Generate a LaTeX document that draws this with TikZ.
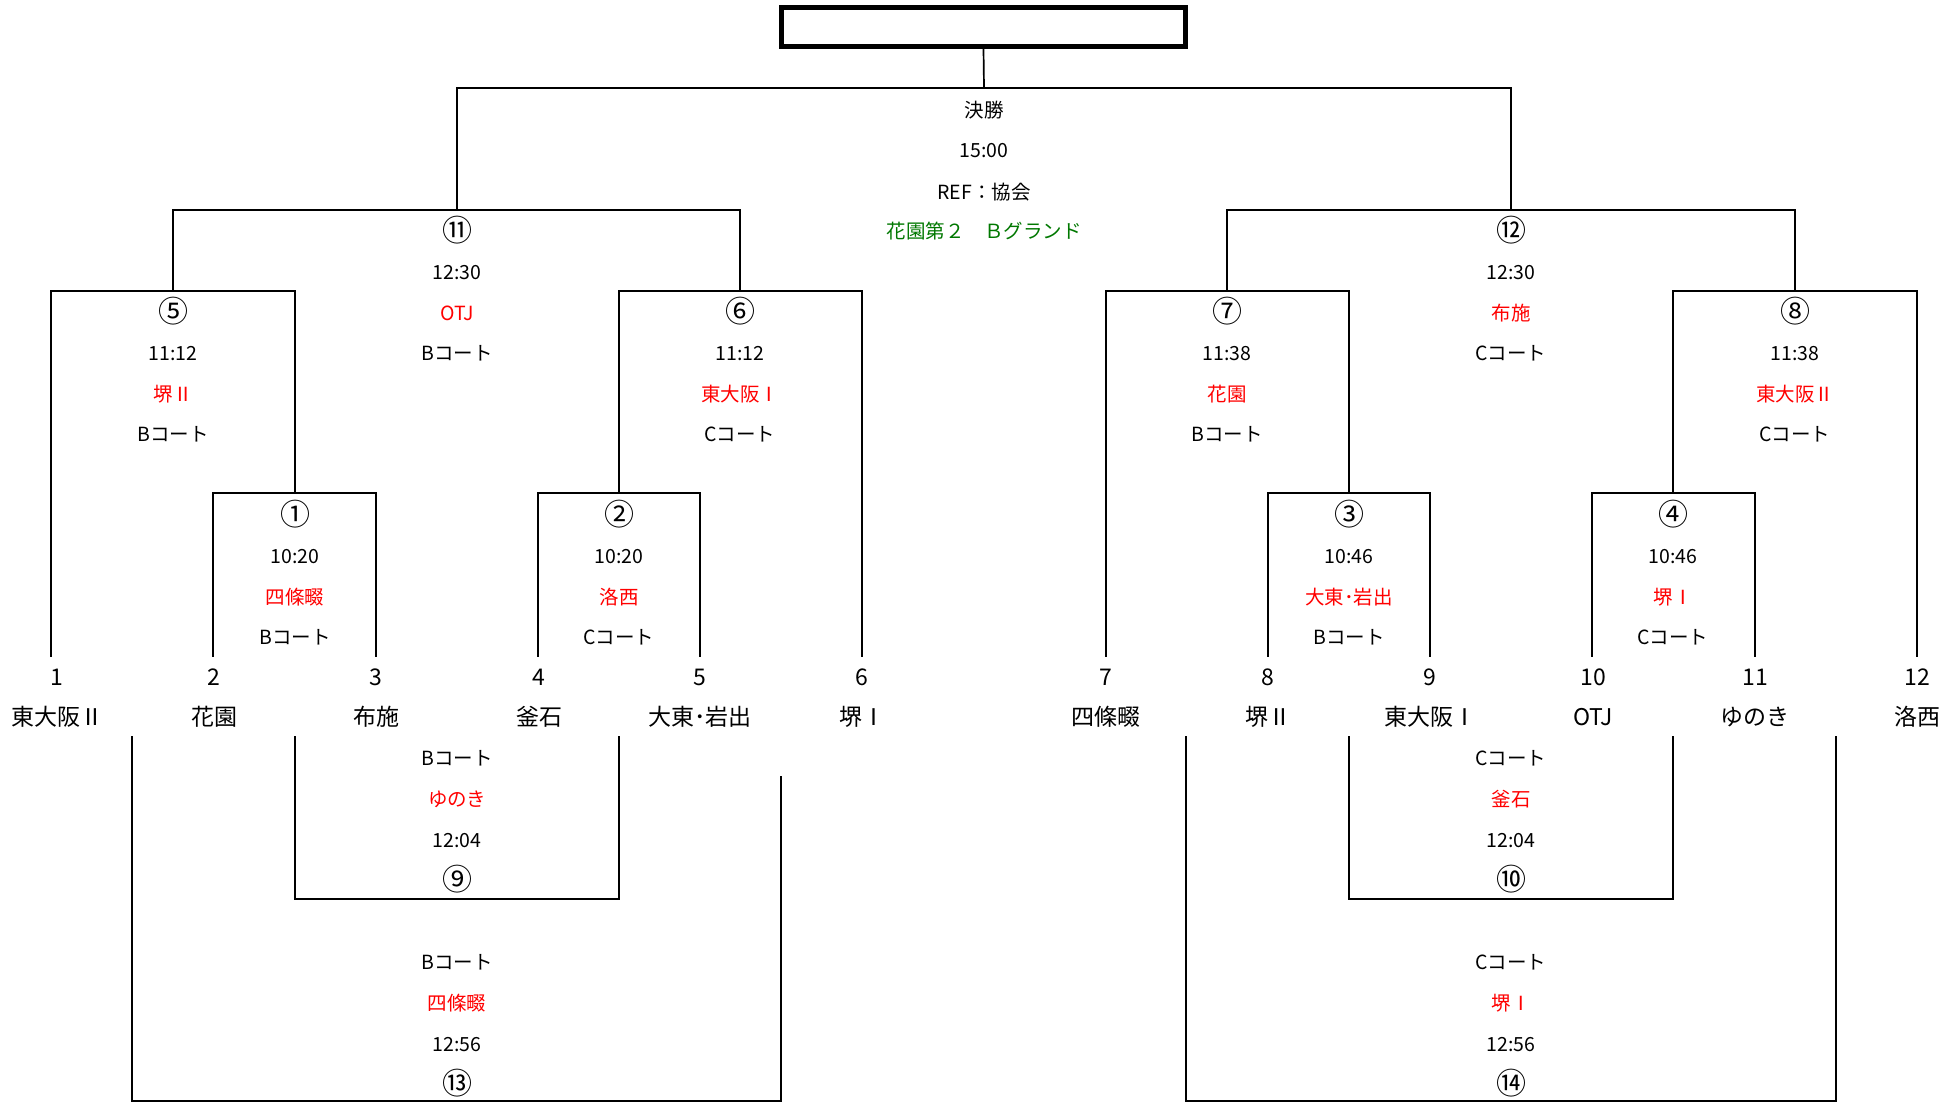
\documentclass[tikz,border=0pt]{standalone}
\usepackage{fontspec}
\setmainfont{Noto Sans CJK JP}
\definecolor{tred}{RGB}{255,0,0}
\definecolor{tgreen}{RGB}{0,120,0}
\newcommand\smf{\fontsize{19.5}{20}\selectfont}
\newcommand\bgf{\fontsize{23}{24}\selectfont}
\newcommand\cnum[1]{\raisebox{-2.5pt}{\fontsize{30}{30}\selectfont #1}}
\tikzset{
  br/.style={line width=1.7pt, black, line cap=rect},
  sm/.style={font=\smf, inner sep=0pt, text height=0.74em, text depth=0pt, anchor=center},
  smr/.style={sm, text=tred},
  bg/.style={font=\bgf, inner sep=0pt, text height=0.74em, text depth=0pt, anchor=center},
}
% bracket: name, xl, xr, yh, y-left-end, y-right-end
\newcommand\bkt[6]{%
  \coordinate (#1-lb) at (#2,#5);
  \coordinate (#1-l) at (#2,#4);
  \coordinate (#1-r) at (#3,#4);
  \coordinate (#1-rb) at (#3,#6);
  \draw[br] (#1-lb) -- (#1-l) -- (#1-r) -- (#1-rb);
}
% match text, red on third line: name, x, y, l1..l4
\newcommand\mtxa[7]{%
  \node[sm] (#1a) at (#2,#3) {\cnum{#4}};
  \node[sm] (#1b) at (#2,#3+40.7) {#5};
  \node[smr] (#1c) at (#2,#3+81.3) {#6};
  \node[sm] (#1d) at (#2,#3+122) {#7};
}
% match text, red on second line
\newcommand\mtxb[7]{%
  \node[sm] (#1a) at (#2,#3) {#4};
  \node[smr] (#1b) at (#2,#3+40.7) {#5};
  \node[sm] (#1c) at (#2,#3+81.3) {#6};
  \node[sm] (#1d) at (#2,#3+122) {\cnum{#7}};
}
\begin{document}
\begin{tikzpicture}[x=1pt,y=-1pt]
\useasboundingbox[fill=white] (0,0) rectangle (1959,1101);

% title box
\node[draw, line width=5pt, minimum width=404pt, minimum height=39pt, inner sep=0pt] (title) at (983.5,27) {};
\coordinate (fmid) at (984,88);
\draw[br] (title.south) -- (fmid);

% upper brackets
\bkt{f}{457}{1511}{88}{210}{210}
\bkt{m11}{173}{740}{210}{291}{291}
\bkt{m5}{51}{295}{291}{656}{493}
\bkt{m6}{619}{862}{291}{493}{656}
\bkt{m1}{213}{376}{493}{656}{656}
\bkt{m2}{538}{700}{493}{656}{656}
\bkt{m12}{1227}{1795}{210}{291}{291}
\bkt{m7}{1106}{1349}{291}{656}{493}
\bkt{m8}{1673}{1917}{291}{493}{656}
\bkt{m3}{1268}{1430}{493}{656}{656}
\bkt{m4}{1592}{1755}{493}{656}{656}
% lower brackets
\bkt{m9}{295}{619}{899}{737}{737}
\bkt{m10}{1349}{1673}{899}{737}{737}
\bkt{m13}{132}{781}{1101}{737}{777}
\bkt{m14}{1186}{1836}{1101}{737}{737}

% final texts
\node[sm] (fa) at (984,114) {決勝};
\node[sm] (fb) at (984,154) {15:00};
\node[sm] (fc) at (984,196) {REF：協会};
\node[sm, text=tgreen] (fd) at (984,235) {花園第２　Ｂグランド};

% match texts (upper)
\mtxa{t11}{457}{235}{⑪}{12:30}{OTJ}{Bコート}
\mtxa{t12}{1511}{235}{⑫}{12:30}{布施}{Cコート}
\mtxa{t5}{173}{316}{⑤}{11:12}{堺Ⅱ}{Bコート}
\mtxa{t6}{740}{316}{⑥}{11:12}{東大阪Ⅰ}{Cコート}
\mtxa{t7}{1227}{316}{⑦}{11:38}{花園}{Bコート}
\mtxa{t8}{1795}{316}{⑧}{11:38}{東大阪Ⅱ}{Cコート}
\mtxa{t1}{295}{519}{①}{10:20}{四條畷}{Bコート}
\mtxa{t2}{619}{519}{②}{10:20}{洛西}{Cコート}
\mtxa{t3}{1349}{519}{③}{10:46}{大東･岩出}{Bコート}
\mtxa{t4}{1673}{519}{④}{10:46}{堺Ⅰ}{Cコート}
% match texts (lower)
\mtxb{t9}{457}{762}{Bコート}{ゆのき}{12:04}{⑨}
\mtxb{t10}{1511}{762}{Cコート}{釜石}{12:04}{⑩}
\mtxb{t13}{457}{966}{Bコート}{四條畷}{12:56}{⑬}
\mtxb{t14}{1511}{966}{Cコート}{堺Ⅰ}{12:56}{⑭}

% team numbers
\node[bg] (n1) at (57,682) {1};
\node[bg] (n2) at (214,682) {2};
\node[bg] (n3) at (376,682) {3};
\node[bg] (n4) at (539,682) {4};
\node[bg] (n5) at (700,682) {5};
\node[bg] (n6) at (862,682) {6};
\node[bg] (n7) at (1106,682) {7};
\node[bg] (n8) at (1268,682) {8};
\node[bg] (n9) at (1430,682) {9};
\node[bg] (n10) at (1593,682) {10};
\node[bg] (n11) at (1755,682) {11};
\node[bg] (n12) at (1917,682) {12};
% team names
\node[bg] (s1) at (57,722) {東大阪Ⅱ};
\node[bg] (s2) at (214,722) {花園};
\node[bg] (s3) at (376,722) {布施};
\node[bg] (s4) at (539,722) {釜石};
\node[bg] (s5) at (700,722) {大東･岩出};
\node[bg] (s6) at (862,722) {堺Ⅰ};
\node[bg] (s7) at (1106,722) {四條畷};
\node[bg] (s8) at (1268,722) {堺Ⅱ};
\node[bg] (s9) at (1430,722) {東大阪Ⅰ};
\node[bg] (s10) at (1593,722) {OTJ};
\node[bg] (s11) at (1755,722) {ゆのき};
\node[bg] (s12) at (1917,722) {洛西};
\end{tikzpicture}
\end{document}
